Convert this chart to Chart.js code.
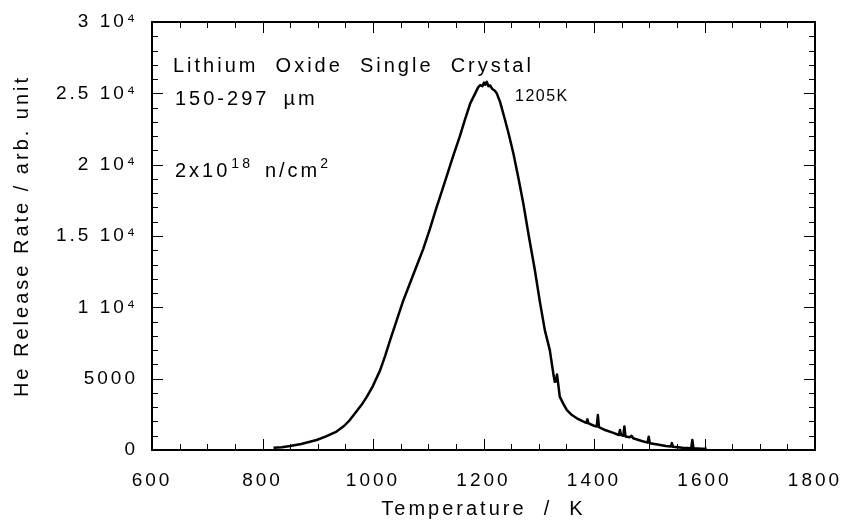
<!DOCTYPE html>
<html>
<head>
<meta charset="utf-8">
<script src="https://cdn.jsdelivr.net/npm/chart.js@4.4.0/dist/chart.umd.min.js"></script>
<style>
  html, body { margin: 0; padding: 0; background: #fff; }
</style>
</head>
<body>
<canvas id="myChart" width="850" height="528"></canvas>
<script>
// values
const temps = [820, 835, 850, 870, 898, 915, 934, 948, 958, 970, 980, 989, 1000, 1013, 1022, 1031,
  1043, 1055, 1065, 1073, 1079, 1091, 1103, 1115, 1121, 1133, 1145, 1157, 1166, 1176, 1185, 1190,
  1194, 1198, 1201, 1203, 1206, 1209, 1212, 1216, 1220, 1224, 1230, 1239, 1246, 1254, 1263, 1272,
  1282, 1293, 1302, 1311, 1320, 1327, 1329, 1331, 1333, 1335, 1338, 1345, 1351, 1360, 1369, 1380,
  1386, 1388, 1390, 1400, 1405, 1407, 1409, 1420, 1435, 1445, 1447, 1449, 1453, 1455, 1457, 1465,
  1468, 1471, 1485, 1497, 1499, 1501, 1515, 1530, 1539, 1541, 1543, 1560, 1576, 1578, 1580, 1595, 1604];
const rates = [150, 200, 280, 420, 700, 950, 1290, 1700, 2100, 2700, 3200, 3740, 4500, 5600, 6600, 7700,
  9100, 10500, 11500, 12300, 12900, 14100, 15500, 17000, 17700, 19150, 20600, 21960, 23100, 24300, 25000, 25400,
  25580, 25500, 25750, 25600, 25800, 25500, 25550, 25300, 25200, 25000, 24400, 23130, 22100, 20800, 19100, 17290,
  15000, 12600, 10400, 8400, 7000, 5200, 4790, 4800, 5300, 4700, 3740, 3200, 2800, 2450, 2220, 2000,
  1900, 2150, 1870, 1700, 1650, 2450, 1600, 1400, 1200, 1050, 1400, 1050, 1000, 1650, 950, 900,
  1000, 820, 650, 520, 930, 480, 380, 280, 240, 480, 220, 160, 120, 700, 120, 90, 80];

const xMin = 600, xMax = 1800, xStep = 200, xMinor = 50;
const yMin = 0, yMax = 30000, yStep = 5000, yMinor = 1000;
const yTickLabels = ['0', '5000', '1 10\u2074', '1.5 10\u2074', '2 10\u2074', '2.5 10\u2074', '3 10\u2074'];

const FONT = "'Liberation Sans', Arial, Helvetica, sans-serif";

const points = temps.map((t, i) => ({ x: t, y: rates[i] }));

// letter spacing on every text the chart draws
const spacingPlugin = {
    id: 'spacing',
    beforeLayout(chart) { chart.ctx.letterSpacing = '3px'; },
    beforeDraw(chart) { chart.ctx.letterSpacing = '3px'; }
};

// frame plus inward ticks on all four sides
const framePlugin = {
    id: 'frame',
    afterDraw(chart) {
        const { ctx, chartArea: a, scales } = chart;
        const xs = scales.x, ys = scales.y;
        ctx.save();
        ctx.strokeStyle = '#000';
        ctx.lineWidth = 1;
        ctx.beginPath();
        for (let v = xMin; v <= xMax; v += xMinor) {
            const px = Math.round(xs.getPixelForValue(v)) + 0.5;
            const len = (v - xMin) % xStep === 0 ? 11 : 6;
            ctx.moveTo(px, a.bottom); ctx.lineTo(px, a.bottom - len);
            ctx.moveTo(px, a.top); ctx.lineTo(px, a.top + len);
        }
        for (let v = yMin; v <= yMax; v += yMinor) {
            const py = Math.round(ys.getPixelForValue(v)) + 0.5;
            const len = (v - yMin) % yStep === 0 ? 11 : 6;
            ctx.moveTo(a.left, py); ctx.lineTo(a.left + len, py);
            ctx.moveTo(a.right, py); ctx.lineTo(a.right - len, py);
        }
        ctx.stroke();
        ctx.lineWidth = 2;
        ctx.strokeRect(a.left, a.top, a.right - a.left, a.bottom - a.top);
        ctx.restore();
    }
};

function drawParts(ctx, x, y, parts) {
    let cx = x;
    for (const p of parts) {
        ctx.font = p.size + 'px ' + FONT;
        ctx.fillText(p.t, cx, y - (p.rise || 0));
        cx += ctx.measureText(p.t).width + (p.gap || 0);
    }
}

const notesPlugin = {
    id: 'notes',
    afterDraw(chart) {
        const ctx = chart.ctx;
        const a = chart.chartArea;
        ctx.save();
        ctx.fillStyle = '#000';
        ctx.textBaseline = 'alphabetic';
        ctx.textAlign = 'left';
        ctx.letterSpacing = '3px';
        drawParts(ctx, a.left + 21, 72, [{ t: 'Lithium  Oxide  Single  Crystal', size: 20 }]);
        drawParts(ctx, a.left + 23, 105, [{ t: '150-297', size: 20, gap: 14 }, { t: '\u00b5m', size: 20 }]);
        drawParts(ctx, a.left + 23, 177, [
            { t: '2x10', size: 20, gap: 1 },
            { t: '18', size: 14, rise: 9, gap: 12 },
            { t: 'n/cm', size: 20 },
            { t: '2', size: 14, rise: 9 }
        ]);
        ctx.letterSpacing = '1.5px';
        drawParts(ctx, a.left + 363, 101, [{ t: '1205K', size: 16 }]);
        ctx.restore();
    }
};

const ctx = document.getElementById('myChart').getContext('2d');
new Chart(ctx, {
    type: 'scatter',
    data: {
        datasets: [{
            data: points,
            showLine: true,
            borderColor: '#000',
            borderWidth: 2.5,
            borderJoinStyle: 'round',
            pointRadius: 0,
            tension: 0
        }]
    },
    options: {
        responsive: false,
        animation: false,
        devicePixelRatio: 1,
        layout: { padding: { left: 0, top: 22, right: 35, bottom: 0 } },
        plugins: {
            legend: { display: false },
            tooltip: { enabled: false }
        },
        scales: {
            x: {
                type: 'linear',
                min: xMin,
                max: xMax,
                grid: { display: false, drawTicks: false },
                border: { display: false },
                ticks: {
                    stepSize: xStep,
                    color: '#000',
                    padding: 19,
                    maxRotation: 0,
                    font: { family: FONT, size: 19 },
                    callback: v => String(v)
                },
                title: {
                    display: true,
                    text: 'Temperature  /  K',
                    color: '#000',
                    font: { family: FONT, size: 20 },
                    padding: { top: 0, bottom: 7 }
                },
                afterFit(s) { s.height = 78; s.paddingLeft = 0; s.paddingRight = 0; }
            },
            y: {
                min: yMin,
                max: yMax,
                grid: { display: false, drawTicks: false },
                border: { display: false },
                ticks: {
                    stepSize: yStep,
                    color: '#000',
                    padding: 14,
                    font: { family: FONT, size: 19 },
                    callback: (v, i) => yTickLabels[i]
                },
                title: {
                    display: true,
                    text: 'He Release Rate / arb. unit',
                    color: '#000',
                    font: { family: FONT, size: 20 },
                    padding: { top: 10, bottom: 0 }
                },
                afterFit(s) { s.width = 152; s.paddingTop = 0; s.paddingBottom = 0; }
            }
        }
    },
    plugins: [spacingPlugin, framePlugin, notesPlugin]
});
</script>
</body>
</html>
